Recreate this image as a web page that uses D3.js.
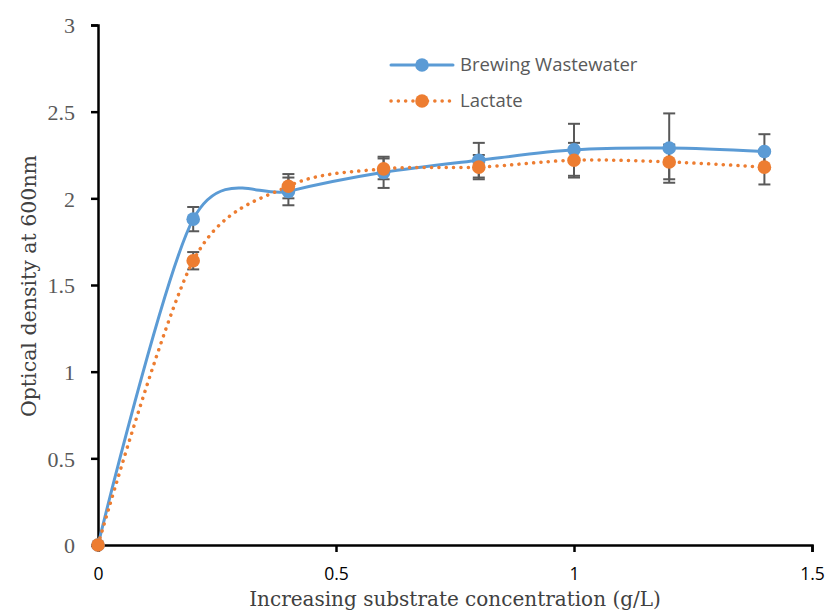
<!DOCTYPE html>
<html>
<head>
<meta charset="utf-8">
<script src="https://cdn.jsdelivr.net/npm/d3@7/dist/d3.min.js"></script>
<style>
  html, body { margin: 0; padding: 0; background: #fff; }
  svg { display: block; }
</style>
</head>
<body>
<svg id="chart" width="828" height="612"></svg>
<script>
// Substrate concentration (g/L)
const concentration = [0, 0.2, 0.4, 0.6, 0.8, 1.0, 1.2, 1.4];
// Optical density at 600 nm and standard errors
const brewing = [0, 1.88, 2.04, 2.15, 2.22, 2.28, 2.29, 2.27];
const brewingErr = [0, 0.07, 0.08, 0.09, 0.10, 0.15, 0.20, 0.10];
const lactate = [0, 1.64, 2.07, 2.17, 2.18, 2.22, 2.21, 2.18];
const lactateErr = [0, 0.05, 0.07, 0.06, 0.07, 0.10, 0.10, 0.10];
const xTicks = [0, 0.5, 1, 1.5];
const yTicks = [0, 0.5, 1, 1.5, 2, 2.5, 3];
const seriesNames = ["Brewing Wastewater", "Lactate"];

const svg = d3.select("#chart");
const x = d3.scaleLinear().domain([0, 1.5]).range([98, 812]);
const y = d3.scaleLinear().domain([0, 3]).range([545, 25]);

const blue = "#5B9BD5", orange = "#ED7D31", errColor = "#595959";

const series = [
  { name: seriesNames[0], vals: brewing, err: brewingErr, color: blue, dash: null },
  { name: seriesNames[1], vals: lactate, err: lactateErr, color: orange, dash: "0.1 7.2" }
].map(s => ({ ...s, pts: concentration.map((c, i) => ({ x: c, y: s.vals[i], e: s.err[i] })) }));

// Axes
const yAxis = svg.append("g").attr("transform", `translate(${x(0)},0)`)
  .call(d3.axisLeft(y).tickValues(yTicks).tickSize(7).tickPadding(16).tickFormat(d3.format("")));
yAxis.select(".domain").attr("stroke", "#000").attr("stroke-width", 2.5);
yAxis.selectAll(".tick line").attr("stroke", "#000").attr("stroke-width", 2.5);
yAxis.selectAll(".tick text")
  .attr("font-family", "'Liberation Serif', serif").attr("font-size", 22)
  .attr("fill", "#595959").attr("dy", "0.35em");

const xAxis = svg.append("g").attr("transform", `translate(0,${y(0)})`)
  .call(d3.axisBottom(x).tickValues(xTicks).tickSize(7).tickPadding(16).tickFormat(d3.format("")));
xAxis.select(".domain").attr("stroke", "#000").attr("stroke-width", 2.5);
xAxis.selectAll(".tick line").attr("stroke", "#000").attr("stroke-width", 2.5);
xAxis.selectAll(".tick text")
  .attr("font-family", "'Open Sans', sans-serif").attr("font-size", 17.5).attr("fill", "#000");

// Axis titles
svg.append("text")
  .attr("x", 455).attr("y", 606).attr("text-anchor", "middle")
  .attr("font-family", "'DejaVu Serif', serif").attr("font-size", 20).attr("fill", "#404040")
  .text("Increasing substrate concentration (g/L)");
svg.append("text")
  .attr("transform", `translate(36,${286}) rotate(-90)`).attr("text-anchor", "middle")
  .attr("font-family", "'DejaVu Serif', serif").attr("font-size", 20.5).attr("fill", "#404040")
  .text("Optical density at 600nm");

// Error bars
const cap = 6;
series.forEach(s => {
  const g = svg.append("g").attr("stroke", errColor).attr("stroke-width", 2);
  s.pts.forEach(p => {
    const top = y(p.y + p.e), bot = y(p.y - p.e), cx = x(p.x);
    g.append("line").attr("x1", cx).attr("x2", cx).attr("y1", top).attr("y2", bot);
    g.append("line").attr("x1", cx - cap).attr("x2", cx + cap).attr("y1", top).attr("y2", top);
    g.append("line").attr("x1", cx - cap).attr("x2", cx + cap).attr("y1", bot).attr("y2", bot);
  });
});

// Smoothed lines
const line = d3.line().x(d => x(d.x)).y(d => y(d.y)).curve(d3.curveCardinal.tension(0.1));
series.forEach(s => {
  svg.append("path").datum(s.pts)
    .attr("d", line).attr("fill", "none")
    .attr("stroke", s.color).attr("stroke-width", s.dash ? 3.5 : 3)
    .attr("stroke-linecap", "round")
    .attr("stroke-dasharray", s.dash);
});

// Markers
series.forEach(s => {
  svg.append("g").selectAll("circle").data(s.pts).join("circle")
    .attr("cx", d => x(d.x)).attr("cy", d => y(d.y)).attr("r", 6.8)
    .attr("fill", s.color);
});

// Legend
const legend = svg.append("g");
series.forEach((s, i) => {
  const ly = 65 + i * 36;
  legend.append("line").attr("x1", 391).attr("x2", 453).attr("y1", ly).attr("y2", ly)
    .attr("stroke", s.color).attr("stroke-width", s.dash ? 3.5 : 3)
    .attr("stroke-linecap", "round").attr("stroke-dasharray", s.dash);
  legend.append("circle").attr("cx", 422).attr("cy", ly).attr("r", 6.8).attr("fill", s.color);
  legend.append("text").attr("x", 460).attr("y", ly).attr("dy", "0.35em")
    .attr("font-family", "'Open Sans', sans-serif").attr("font-size", 18.5).attr("fill", "#595959")
    .text(s.name);
});
</script>
</body>
</html>
